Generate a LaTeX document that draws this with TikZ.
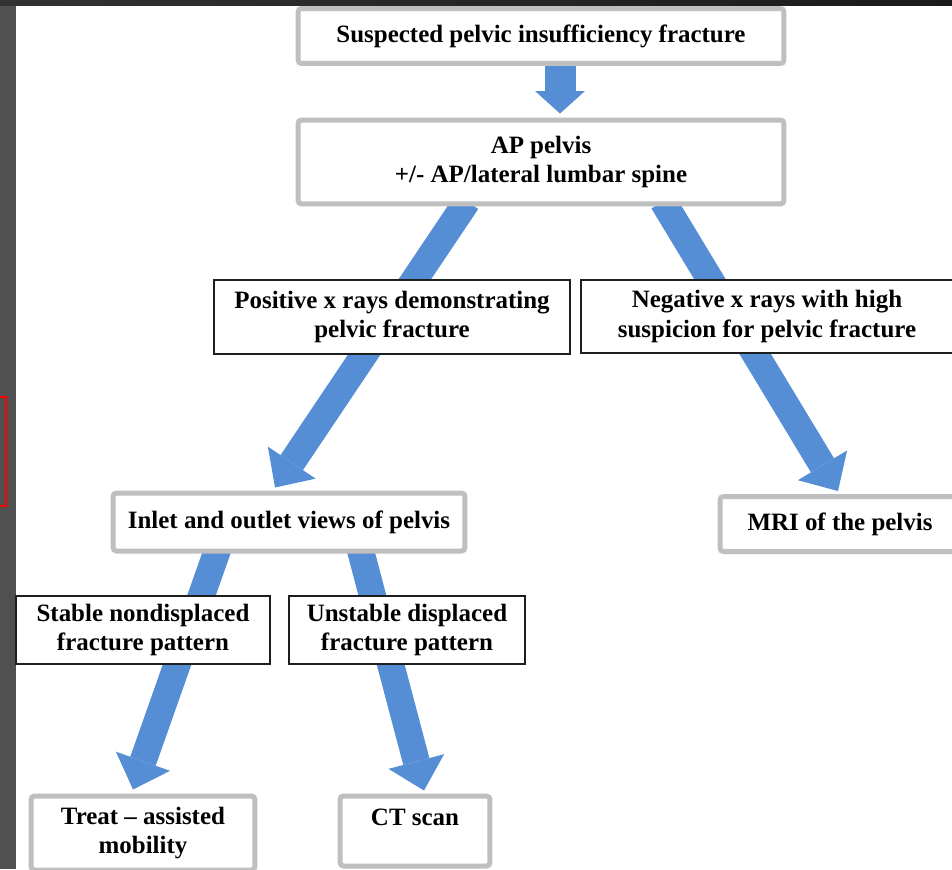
\documentclass[tikz,border=0pt]{standalone}
\usepackage{fontspec}
\setmainfont{Liberation Serif}
\usetikzlibrary{arrows.meta,positioning,calc}
\definecolor{ArrowBlue}{RGB}{85,142,213}
\definecolor{FrameGray}{RGB}{191,191,191}
\definecolor{EdgeBlack}{RGB}{30,30,30}
\definecolor{SideGray}{RGB}{80,80,80}
\definecolor{TopGray}{RGB}{50,50,50}
\definecolor{TopDark}{RGB}{26,26,26}
\pgfdeclarelayer{bg}
\pgfsetlayers{bg,main}

\begin{document}
\begin{tikzpicture}[
      x=0.02cm,y=-0.02cm,
      gNode/.style={draw=FrameGray,fill=white,rounded corners=2pt,line width=0.1cm,
                    font=\fontsize{14.2}{17}\selectfont\bfseries,align=center,text=black,inner sep=2pt},
      kNode/.style={draw=EdgeBlack,fill=white,line width=0.04cm,
                    font=\fontsize{14.2}{17}\selectfont\bfseries,align=center,text=black,inner sep=2pt},
      ar/.style={-{Triangle[width=1.15cm,length=0.6cm,line width=0pt]},line width=0.54cm,color=ArrowBlue}
    ]
    \useasboundingbox (0,0) rectangle (952,869);
    \clip (0,0) rectangle (952,869);

    % Boxes, top to bottom
    \node(n1)[gNode,minimum width=9.72cm,minimum height=1.10cm] at (541,36) {Suspected pelvic insufficiency fracture};
    \node(n2)[gNode,minimum width=9.72cm,minimum height=1.68cm] at (541,162) {AP pelvis\\+/- AP/lateral lumbar spine};

    \node(n3)[kNode,minimum width=7.12cm,minimum height=1.48cm] at (392,317) {Positive x rays demonstrating\\pelvic fracture};
    \node(n4)[kNode,minimum width=7.44cm,minimum height=1.46cm] at (767,316.5) {Negative x rays with high\\suspicion for pelvic fracture};

    \node(n5)[gNode,minimum width=7.04cm,minimum height=1.16cm] at (289,522) {Inlet and outlet views of pelvis};
    \node(n6)[gNode,minimum width=4.80cm,minimum height=1.10cm] at (840,524) {MRI of the pelvis};

    \node(n7)[kNode,minimum width=5.08cm,minimum height=1.36cm] at (143,630) {Stable nondisplaced\\fracture pattern};
    \node(n8)[kNode,minimum width=4.72cm,minimum height=1.36cm] at (407,630) {Unstable displaced\\fracture pattern};

    \node(n9)[gNode,minimum width=4.48cm,minimum height=1.48cm] at (143,833) {Treat -- assisted\\mobility};
    \node(n10)[gNode,minimum width=3.00cm,text height=0.48cm,text depth=0.72cm,inner sep=0.1cm] at (415,831) {CT scan};

    \begin{pgfonlayer}{bg}
      % Slide frame
      \fill[white] (0,0) rectangle (952,869);
      \fill[SideGray] (0,0) rectangle (16,869);
      \shade[left color=TopGray,right color=TopDark] (0,0) rectangle (952,5);
      \draw[red,line width=0.04cm] (-5,397) rectangle (6,506);

      % Arrows, behind the boxes
      \draw[ar,line width=0.62cm,-{Triangle[width=1.0cm,length=0.45cm,line width=0pt]}]
        ([xshift=0.38cm,yshift=0.1cm]n1.south) -- ([xshift=0.38cm,yshift=0.08cm]n2.north);
      \draw[ar] ([xshift=-1.48cm,yshift=0.1cm]n2.south) -- ([xshift=-0.28cm,yshift=0.06cm]n5.north);
      \draw[ar] ([xshift=2.44cm,yshift=0.1cm]n2.south) -- ([xshift=-0.04cm,yshift=0.06cm]n6.north);
      \draw[ar] ([xshift=-1.42cm,yshift=0.1cm]n5.south) -- ([xshift=-0.2cm,yshift=0.08cm]n9.north);
      \draw[ar] ([xshift=1.42cm,yshift=0.1cm]n5.south) -- ([xshift=0.18cm,yshift=0.06cm]n10.north);
    \end{pgfonlayer}
  \end{tikzpicture}
\end{document}
